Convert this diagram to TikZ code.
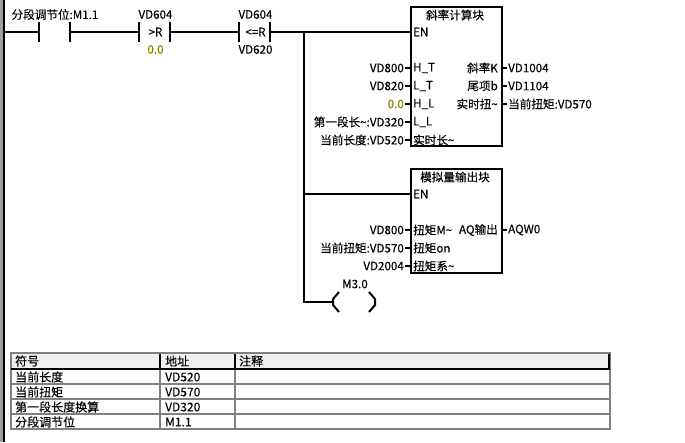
\documentclass[tikz,border=0pt]{standalone}
\usepackage{fontspec}
\setmainfont{Liberation Sans}
\newfontfamily\cjk[FakeBold=0.2]{Noto Sans CJK SC}
\definecolor{olivenum}{HTML}{808000}
\definecolor{hdrfill}{HTML}{F0F0F0}
\definecolor{gridgray}{HTML}{808080}
\definecolor{ditherfill}{HTML}{A0A0A0}
\tikzset{
  wire/.style={line width=2pt,black},
  plate/.style={line width=2pt,black},
  txt/.style={inner sep=0pt,font=\fontsize{11.6}{13}\selectfont\cjk,text=black},
  rlab/.style={txt,anchor=east},
  llab/.style={txt,anchor=west},
  ctr/.style={txt,anchor=center},
  blockbox/.style={draw,line width=2pt,anchor=north west,minimum width=91pt,inner sep=0pt},
  grid/.style={line width=1.2pt,gridgray},
  cell/.style={inner sep=0pt,anchor=west,font=\fontsize{12}{13}\selectfont\cjk},
}
\begin{document}
\begin{tikzpicture}[x=1pt,y=-1pt]
\useasboundingbox (0,0) rectangle (685,442);
\fill[white] (0,0) rectangle (685,442);
% left rail
\fill[ditherfill] (0,0) rectangle (3,442);
\fill[black] (3,0) rectangle (5,442);
% contacts
\coordinate (r0) at (4,32);
\coordinate (c1a) at (39,32); \coordinate (c1b) at (70,32);
\coordinate (c2a) at (139,32); \coordinate (c2b) at (170,32);
\coordinate (c3a) at (239,32); \coordinate (c3b) at (270,32);
\coordinate (jn) at (304,32);
\draw[wire] (r0) -- (c1a);
\draw[wire] (c1b) -- (c2a);
\draw[wire] (c2b) -- (c3a);
\draw[wire] (c3b) -- (jn);
\foreach \p in {c1a,c1b,c2a,c2b,c3a,c3b}
  \draw[plate] ([yshift=-10pt]\p) -- ([yshift=10pt]\p);
\node[txt] (t1) at (55,14.5) {分段调节位:M1.1};
\node[txt] (t2) at (155.5,14.5) {VD604};
\node[ctr] (t3) at (155.5,32) {>R};
\node[txt,text=olivenum] (t4) at (155.5,49.5) {0.0};
\node[txt] (t5) at (255.5,14.5) {VD604};
\node[ctr] (t6) at (255.5,32) {<=R};
\node[txt] (t7) at (255.5,49.5) {VD620};
% block 1
\node[blockbox,minimum height=139pt] (b1) at (410,6) {};
\node[ctr] (b1t) at (455,15) {斜率计算块};
\node[llab] (b1en) at (413,32) {EN};
\draw[wire] (jn) -- (b1.north west |- b1en);
\foreach \y/\l/\r/\n/\c in {68/H\_T/VD800/a/black,86/L\_T/VD820/b/black,104/H\_L/0.0/c/olivenum,122/L\_L/第一段长\textasciitilde:VD320/d/black,140/实时长\textasciitilde/当前长度:VD520/e/black}{
  \node[llab] (pi\n) at (413,\y) {\l};
  \node[rlab,text=\c] (po\n) at (404,\y) {\r};
  \draw[wire] (po\n.east) ++(1,0) -- (b1.west |- pi\n);
}
\foreach \y/\l/\r/\n in {68/斜率K/VD1004/a,86/尾项b/VD1104/b,104/实时扭\textasciitilde/当前扭矩:VD570/c}{
  \node[rlab] (qi\n) at (498,\y) {\l};
  \node[llab] (qo\n) at (508,\y) {\r};
  \draw[wire] (b1.east |- qi\n) -- ([xshift=-1pt]qo\n.west);
}
% block 2
\node[blockbox,minimum height=104pt] (b2) at (410,168) {};
\node[ctr] (b2t) at (455,177) {模拟量输出块};
\node[llab] (b2en) at (413,194) {EN};
\coordinate (jn2) at (304,194);
\draw[wire] (jn2) -- (b2.west |- b2en);
\foreach \y/\l/\r/\n in {230/扭矩M\textasciitilde/VD800/a,248/扭矩on/当前扭矩:VD570/b,266/扭矩系\textasciitilde/VD2004/c}{
  \node[llab] (ri\n) at (413,\y) {\l};
  \node[rlab] (ro\n) at (404,\y) {\r};
  \draw[wire] (ro\n.east) ++(1,0) -- (b2.west |- ri\n);
}
\node[rlab] (si) at (498,230) {AQ输出};
\node[llab] (so) at (508,230) {AQW0};
\draw[wire] (b2.east |- si) -- ([xshift=-1pt]so.west);
% coil
\coordinate (coil) at (333,302);
\draw[wire] (jn) -- (304,302) -- (coil);
\draw[wire] (339,292) -- (333,299) -- (333,305) -- (339,312);
\draw[wire] (369,292) -- (375,299) -- (375,305) -- (369,312);
\node[ctr] (coilt) at (355,284) {M3.0};
% table
\fill[hdrfill] (11,353) rectangle (610,369);
\draw[grid] (11,353) rectangle (610,429);
\foreach \y in {384,399,414} \draw[grid] (11,\y) -- (610,\y);
\draw[grid] (160,369) -- (160,429);
\draw[grid] (235,369) -- (235,429);
\draw[line width=1.4pt] (11,369) -- (610,369);
\draw[line width=1.4pt] (160,354) -- (160,369);
\draw[line width=1.4pt] (235,354) -- (235,369);
\draw[line width=1.4pt] (609,354) -- (609,369);
\foreach \y/\a/\b/\n in {361/符号/地址/h,377/当前长度/VD520/a,392/当前扭矩/VD570/b,407/第一段长度换算/VD320/c,422/分段调节位/M1.1/d}{
  \node[cell] (ca\n) at (15,\y) {\a};
  \node[cell] (cb\n) at (165,\y) {\b};
}
\node[cell] (cch) at (239,361) {注释};
\end{tikzpicture}
\end{document}
